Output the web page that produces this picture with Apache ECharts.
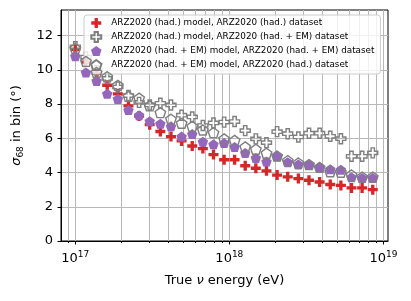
<!DOCTYPE html>
<html><head><meta charset="utf-8">
<script src="https://cdn.jsdelivr.net/npm/echarts@6/dist/echarts.min.js"></script>
<style>html,body{margin:0;padding:0;background:#fff}#c{width:411px;height:301px}</style>
</head><body><div id="c"></div>
<script>
// log10 of true neutrino energy (eV), bin positions
const logEnergy = [17.000,17.069,17.138,17.207,17.276,17.345,17.414,17.483,17.552,17.621,17.690,17.759,17.828,17.897,17.966,18.034,18.103,18.172,18.241,18.310,18.379,18.448,18.517,18.586,18.655,18.724,18.793,18.862,18.931];
const hadHad   = [11.2,10.45,9.8,9.1,8.6,7.9,7.3,6.8,6.4,6.1,5.85,5.55,5.4,5.05,4.75,4.75,4.4,4.25,4.1,3.85,3.75,3.65,3.55,3.45,3.3,3.25,3.1,3.1,3.0];
const hadFull  = [11.35,10.75,9.95,9.5,9.0,8.5,8.1,7.95,8.05,7.95,7.35,7.25,6.75,6.9,6.95,6.98,6.45,5.97,5.75,6.39,6.27,6.08,6.3,6.3,6.12,5.98,4.95,4.95,5.15];
const fullFull = [10.8,9.85,9.35,8.6,8.3,7.65,7.35,7.0,6.85,6.7,6.1,6.25,5.8,5.65,5.72,5.5,5.15,4.85,4.64,4.95,4.6,4.47,4.45,4.33,4.2,4.17,3.72,3.68,3.68];
const fullHad  = [11.25,10.5,9.85,9.6,9.1,8.45,8.35,7.9,7.5,7.12,6.88,6.7,6.49,6.33,5.97,5.88,5.5,5.36,5.13,4.97,4.7,4.56,4.47,4.3,4.05,4.02,3.86,3.74,3.74];
const seriesNames = [
  'ARZ2020 (had.) model, ARZ2020 (had.) dataset',
  'ARZ2020 (had.) model, ARZ2020 (had. + EM) dataset',
  'ARZ2020 (had. + EM) model, ARZ2020 (had. + EM) dataset',
  'ARZ2020 (had. + EM) model, ARZ2020 (had.) dataset'
];
const xMajorTicks = [17, 18, 19];
const xMinorTicks = [16.954, 17.301, 17.477, 17.602, 17.699, 17.778, 17.845, 17.903, 17.954,
                     18.301, 18.477, 18.602, 18.699, 18.778, 18.845, 18.903, 18.954];
const yTicks = [0, 2, 4, 6, 8, 10, 12];

const PLUS = 'path://M-1,-3L1,-3L1,-1L3,-1L3,1L1,1L1,3L-1,3L-1,1L-3,1L-3,-1L-1,-1Z';
const PENT = 'path://M0,-100L95.1,-30.9L58.8,80.9L-58.8,80.9L-95.1,-30.9Z';
const FONT = 'DejaVu Sans';
const GRIDC = '#b8b8b8';

function pts(vals){ return logEnergy.map((x,i)=>[x, vals[i]]); }

const chart = echarts.init(document.getElementById('c'), null, {renderer:'canvas'});
chart.setOption({
  animation: false,
  backgroundColor: '#fff',
  textStyle: {fontFamily: FONT},
  grid: {left: 61, right: 23, top: 10, bottom: 60, show: true, borderColor: '#000', borderWidth: 1, backgroundColor: 'transparent'},
  legend: {
    orient: 'vertical', left: 84, top: 15,
    padding: [3, 6, 3, 6], itemWidth: 20, itemHeight: 10, itemGap: 3,
    backgroundColor: 'rgba(255,255,255,0.8)', borderColor: '#cccccc', borderWidth: 1, borderRadius: 3,
    textStyle: {fontFamily: FONT, fontSize: 8.8, color: '#000'},
    data: [
      {name: seriesNames[0], icon: PLUS},
      {name: seriesNames[1], icon: PLUS},
      {name: seriesNames[2], icon: PENT},
      {name: seriesNames[3], icon: PENT}
    ]
  },
  xAxis: [{
    type: 'value', min: 16.907, max: 19.030,
    axisLine: {show: true, lineStyle: {color: '#000', width: 1}},
    axisTick: {show: true, customValues: xMajorTicks, length: 3.5, lineStyle: {color: '#000', width: 1}},
    axisLabel: {
      customValues: xMajorTicks, margin: 9, color: '#000',
      formatter: v => '{b|10}{s|' + Math.round(v) + '}',
      rich: {
        b: {fontFamily: FONT, fontSize: 13, color: '#000', lineHeight: 18},
        s: {fontFamily: FONT, fontSize: 9, color: '#000', lineHeight: 10, verticalAlign: 'top'}
      }
    },
    splitLine: {show: true, lineStyle: {color: GRIDC, width: 1}},
    name: 'True {i|ν} energy (eV)', nameLocation: 'middle', nameGap: 33,
    nameTextStyle: {fontFamily: FONT, fontSize: 13, color: '#000',
      rich: {i: {fontFamily: FONT, fontSize: 13, fontStyle: 'italic', color: '#000'}}}
  }, {
    type: 'value', min: 16.907, max: 19.030, gridIndex: 0, position: 'bottom',
    axisLine: {show: false},
    axisTick: {show: true, customValues: xMinorTicks, length: 2, lineStyle: {color: '#000', width: 1}},
    axisLabel: {show: false},
    splitLine: {show: true, lineStyle: {color: GRIDC, width: 1}}
  }],
  yAxis: {
    type: 'value', min: 0, max: 13.5, interval: 2,
    axisLine: {show: true, lineStyle: {color: '#000', width: 1}},
    axisTick: {show: true, customValues: yTicks, length: 3.5, lineStyle: {color: '#000', width: 1}},
    axisLabel: {customValues: yTicks, margin: 8, color: '#000', fontFamily: FONT, fontSize: 13},
    splitLine: {show: true, lineStyle: {color: GRIDC, width: 1}},
    name: '{i|σ}{sub|68}{t| in bin (°)}', nameLocation: 'middle', nameGap: 34, nameRotate: 90,
    nameTextStyle: {fontFamily: FONT, fontSize: 13, color: '#000',
      rich: {
        i: {fontFamily: FONT, fontSize: 13, fontStyle: 'italic', color: '#000', lineHeight: 18},
        sub: {fontFamily: FONT, fontSize: 9, color: '#000', lineHeight: 10, verticalAlign: 'bottom'},
        t: {fontFamily: FONT, fontSize: 13, color: '#000', lineHeight: 18}
      }}
  },
  series: [
    {name: seriesNames[0], type: 'scatter', z: 2, symbol: PLUS, symbolSize: 10, data: pts(hadHad),
     itemStyle: {color: '#d62728', opacity: 1}},
    {name: seriesNames[1], type: 'scatter', z: 3, symbol: PLUS, symbolSize: 10, data: pts(hadFull),
     itemStyle: {color: 'rgba(255,255,255,0)', borderColor: '#7f7f7f', borderWidth: 1.4, opacity: 1}},
    {name: seriesNames[2], type: 'scatter', z: 4, symbol: PENT, symbolSize: [10.5, 10], data: pts(fullFull),
     itemStyle: {color: '#9467bd', opacity: 1}},
    {name: seriesNames[3], type: 'scatter', z: 5, symbol: PENT, symbolSize: [10.5, 10], data: pts(fullHad),
     itemStyle: {color: 'rgba(255,255,255,0)', borderColor: '#7f7f7f', borderWidth: 1.4, opacity: 1}}
  ]
});
</script></body></html>
